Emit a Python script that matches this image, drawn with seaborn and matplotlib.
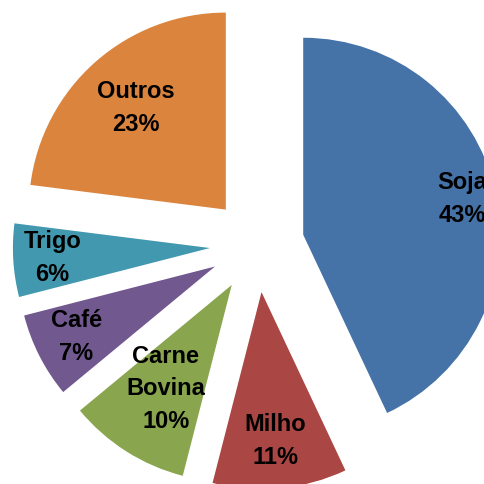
import matplotlib.pyplot as plt
import seaborn as sns
import numpy as np

# data
labels = ['Soja', 'Milho', 'Carne\nBovina', 'Café', 'Trigo', 'Outros']
values = [43, 11, 10, 7, 6, 23]
colors = ['#4572A7', '#AA4643', '#89A54E', '#71588F', '#4198AF', '#DB843D']

# label distance from each slice's own (exploded) centre, like Excel's best fit
label_r = [0.825, 0.76, 0.625, 0.79, 0.80, 0.69]

sns.set_theme(style='white')
plt.rcParams['font.family'] = ['Liberation Sans', 'DejaVu Sans']

fig = plt.figure(figsize=(4.85, 4.84), dpi=100)
ax = fig.add_axes([0, 0, 1, 1])
wedges, _ = ax.pie(values, colors=colors, startangle=90, counterclock=False,
                   explode=[0.24] * len(values), radius=1,
                   wedgeprops=dict(linewidth=0))

for w, lab, v, r in zip(wedges, labels, values, label_r):
    ang = np.deg2rad((w.theta1 + w.theta2) / 2)
    cx, cy = w.center
    ax.text(cx + r * np.cos(ang), cy + r * np.sin(ang), f'{lab}\n{v}%',
            ha='center', va='center', fontsize=17, fontweight='bold',
            color='black', linespacing=1.55)

ax.set_aspect('equal')
ax.set_xlim(-1.305, 1.157)
ax.set_ylim(-1.213, 1.244)
ax.axis('off')
fig.savefig('out.png', dpi=100)
